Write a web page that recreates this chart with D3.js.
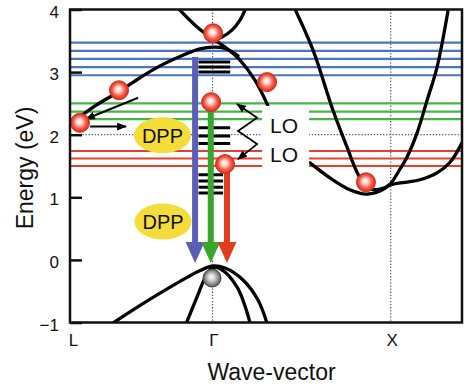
<!DOCTYPE html>
<html>
<head>
<meta charset="utf-8">
<script src="https://cdn.jsdelivr.net/npm/d3@7/dist/d3.min.js"></script>
<style>
  body { margin: 0; background: #fff; }
  svg { display: block; font-family: "Liberation Sans", Arial, Helvetica, sans-serif; }
</style>
</head>
<body>
<script>
// energy levels (eV) of the three emission channels
const blueLevels = [3.47, 3.34, 3.21, 3.08, 2.95];
const greenLevels = [2.50, 2.37, 2.25];
const redLevels = [1.74, 1.62, 1.50];
// short black levels at Gamma
const levelsTop = [3.16, 3.08, 3.00];
const levelsMid = [2.11, 1.98, 1.86];
const levelsLow = [1.36, 1.26, 1.16, 1.07];

// wave-vector points and energy ticks
const kPoints = [-0.8, 0, 1];
const kLabels = ["L", "Γ", "X"];
const eTicks = [-1, 0, 1, 2, 3, 4];

// bands, [k, E]
const bandL = [[-0.8, 2.17], [-0.659, 2.46], [-0.53, 2.68], [-0.407, 2.91], [-0.295, 3.10],
  [-0.166, 3.27], [-0.07, 3.37], [0.003, 3.40], [0.07, 3.38], [0.143, 3.26]];
const bandC = [[-0.21, 4.07], [-0.098, 3.75], [-0.014, 3.56], [0.07, 3.40], [0.154, 3.19],
  [0.238, 2.87], [0.311, 2.46]];
const bandD = [[0.194, 4.07], [0.154, 3.83], [0.109, 3.67], [0.053, 3.56], [0.003, 3.51]];
const bandXa = [[0.452, 4.07], [0.564, 3.35], [0.676, 2.39], [0.755, 1.80], [0.811, 1.40],
  [0.867, 1.15], [0.94, 1.13], [0.996, 1.21], [1.041, 1.40], [1.091, 1.64], [1.148, 2.03],
  [1.204, 2.55], [1.26, 3.08], [1.327, 4.07]];
const bandXb = [[0.547, 1.55], [0.659, 1.31], [0.771, 1.12], [0.861, 1.05], [0.94, 1.10],
  [1.002, 1.20], [1.08, 1.24], [1.164, 1.28], [1.26, 1.39], [1.333, 1.56], [1.4, 1.87]];
const valence1 = [[-0.586, -1.06], [-0.435, -0.78], [-0.311, -0.56], [-0.143, -0.28], [-0.07, -0.17],
  [-0.003, -0.10], [0.07, -0.13], [0.171, -0.32], [0.255, -0.64], [0.311, -1.06]];
const valence2 = [[-0.154, -1.06], [-0.087, -0.59], [-0.042, -0.29], [-0.003, -0.13],
  [0.042, -0.14], [0.137, -0.43], [0.216, -1.06]];

// radiative transitions: k, start E, end E
const transK = [-0.098, -0.01, 0.081];
const transFrom = [3.24, 2.52, 1.53];
const transTo = [-0.05, -0.05, -0.05];

// electrons and hole [k, E]
const electrons = [[-0.744, 2.19], [-0.525, 2.71], [0.003, 3.62], [0.306, 2.84],
  [-0.008, 2.52], [0.07, 1.53], [0.861, 1.24]];
const hole = [-0.003, -0.29];

// annotations [k, E]
const relaxArrows = [[[-0.418, 2.59], [-0.71, 2.25]], [[-0.687, 2.13], [-0.485, 2.13]]];
const loZigzag = [[0.137, 2.49], [0.25, 2.27], [0.143, 2.06], [0.25, 1.85], [0.143, 1.61]];
const loLabels = [[0.323, 2.03], [0.323, 1.56]];
const loBox = [0.278, 0.542, 2.46, 1.45];
const dppLabels = [[-0.281, 1.99], [-0.278, 0.613]];

const W = 464, H = 389;
const pLeft = 70, pRight = 462, pTop = 9.5, pBottom = 322.5;

const svg = d3.select("body").append("svg").attr("width", W).attr("height", H);
const x = d3.scaleLinear().domain([-0.8, 1.4]).range([pLeft, pRight]);
const y = d3.scaleLinear().domain([-1, 4]).range([pBottom, pTop]);

const defs = svg.append("defs");
defs.append("clipPath").attr("id", "plot")
  .append("rect").attr("x", pLeft).attr("y", pTop).attr("width", pRight - pLeft).attr("height", pBottom - pTop);

const rg = defs.append("radialGradient").attr("id", "redBall").attr("fx", "45%").attr("fy", "42%");
[[0, "#ffffff"], [0.3, "#fcd3cc"], [0.65, "#f2634f"], [1, "#d9281a"]].forEach(s =>
  rg.append("stop").attr("offset", s[0]).attr("stop-color", s[1]));
const gg = defs.append("radialGradient").attr("id", "greyBall").attr("fx", "45%").attr("fy", "42%");
[[0, "#ffffff"], [0.4, "#cfcfcf"], [1, "#555555"]].forEach(s =>
  gg.append("stop").attr("offset", s[0]).attr("stop-color", s[1]));

defs.append("marker").attr("id", "head").attr("viewBox", "0 0 10 8")
  .attr("refX", 9).attr("refY", 4).attr("markerWidth", 10).attr("markerHeight", 8)
  .attr("markerUnits", "userSpaceOnUse").attr("orient", "auto-start-reverse")
  .append("path").attr("d", "M0,0 L10,4 L0,8 Z").attr("fill", "#000");

const plot = svg.append("g").attr("clip-path", "url(#plot)");

// dotted guides
const dotted = g => g.attr("stroke", "#555").attr("stroke-width", 1.2).attr("stroke-dasharray", "1.3,1.8");
plot.append("line").attr("x1", pLeft).attr("x2", pRight).attr("y1", y(2)).attr("y2", y(2)).call(dotted);
[0, 1].forEach(k => plot.append("line").attr("x1", x(k)).attr("x2", x(k))
  .attr("y1", pTop).attr("y2", pBottom).call(dotted));

// emission levels
const levelSets = [[blueLevels, "#4a74c4"], [greenLevels, "#45b645"], [redLevels, "#e6402a"]];
levelSets.forEach(([vals, col]) => {
  plot.selectAll(null).data(vals).enter().append("line")
    .attr("x1", pLeft).attr("x2", pRight)
    .attr("y1", d => y(d)).attr("y2", d => y(d))
    .attr("stroke", col).attr("stroke-width", 2.2);
});

// bands
const line = d3.line().x(d => x(d[0])).y(d => y(d[1])).curve(d3.curveCatmullRom.alpha(0.5));
[bandL, bandC, bandD, bandXa, bandXb, valence1, valence2].forEach(b => {
  plot.append("path").attr("d", line(b)).attr("fill", "none")
    .attr("stroke", "#000").attr("stroke-width", 3.3).attr("stroke-linecap", "round");
});

// white box behind the LO labels
plot.append("rect")
  .attr("x", x(loBox[0])).attr("y", y(loBox[2]))
  .attr("width", x(loBox[1]) - x(loBox[0])).attr("height", y(loBox[3]) - y(loBox[2]))
  .attr("fill", "#fff");

// short black levels
const levelGroups = [[levelsTop, -0.079, 0.099], [levelsMid, -0.079, 0.099], [levelsLow, -0.079, 0.059]];
levelGroups.forEach(([vals, k0, k1]) => {
  plot.selectAll(null).data(vals).enter().append("line")
    .attr("x1", x(k0)).attr("x2", x(k1))
    .attr("y1", d => y(d)).attr("y2", d => y(d))
    .attr("stroke", "#000").attr("stroke-width", 3);
});

// DPP ellipses
dppLabels.forEach(d => {
  plot.append("ellipse").attr("cx", x(d[0])).attr("cy", y(d[1]))
    .attr("rx", 28.5).attr("ry", 18).attr("fill", "#f4dc3a");
  plot.append("text").attr("x", x(d[0])).attr("y", y(d[1])).attr("dy", "0.36em")
    .attr("text-anchor", "middle").attr("font-size", 20).attr("fill", "#111").text("DPP");
});

// coloured emission arrows
const transColors = ["#5a5fb6", "#38a62c", "#e23c1e"];
transK.forEach((k, i) => {
  const xc = x(k), y0 = y(transFrom[i]), y1 = y(transTo[i]);
  plot.append("line").attr("x1", xc).attr("x2", xc).attr("y1", y0).attr("y2", y1 - 18)
    .attr("stroke", transColors[i]).attr("stroke-width", 6);
  plot.append("path")
    .attr("d", `M${xc - 9.5},${y1 - 21} L${xc + 9.5},${y1 - 21} L${xc},${y1} Z`)
    .attr("fill", transColors[i]);
});

// black relaxation arrows
relaxArrows.forEach(a => {
  plot.append("line")
    .attr("x1", x(a[0][0])).attr("y1", y(a[0][1]))
    .attr("x2", x(a[1][0])).attr("y2", y(a[1][1]))
    .attr("stroke", "#000").attr("stroke-width", 2).attr("marker-end", "url(#head)");
});
plot.append("path").attr("d", d3.line().x(d => x(d[0])).y(d => y(d[1]))(loZigzag))
  .attr("fill", "none").attr("stroke", "#000").attr("stroke-width", 1.8)
  .attr("marker-start", "url(#head)").attr("marker-end", "url(#head)");

// LO labels
loLabels.forEach(d => {
  svg.append("text").attr("x", x(d[0])).attr("y", y(d[1]))
    .attr("font-size", 21).attr("fill", "#111").text("LO");
});

// carriers
plot.selectAll(null).data(electrons).enter().append("circle")
  .attr("cx", d => x(d[0])).attr("cy", d => y(d[1])).attr("r", 9.5)
  .attr("fill", "url(#redBall)").attr("stroke", "#d3301f").attr("stroke-width", 1);
plot.append("circle").attr("cx", x(hole[0])).attr("cy", y(hole[1])).attr("r", 9)
  .attr("fill", "url(#greyBall)").attr("stroke", "#444").attr("stroke-width", 1);

// frame
svg.append("rect").attr("x", pLeft).attr("y", pTop)
  .attr("width", pRight - pLeft).attr("height", pBottom - pTop)
  .attr("fill", "none").attr("stroke", "#111").attr("stroke-width", 2.5);

// axes
const yAxis = d3.axisLeft(y).tickValues(eTicks).tickSize(-12).tickPadding(11).tickFormat(d3.format("d"));
const gy = svg.append("g").attr("transform", `translate(${pLeft},0)`).call(yAxis);
gy.select(".domain").remove();
gy.selectAll("line").attr("stroke", "#111").attr("stroke-width", 2.5);
gy.selectAll("text").attr("font-size", 17).attr("font-family", null).attr("fill", "#111").attr("dy", "0.45em");

const xAxis = d3.axisBottom(x).tickValues(kPoints).tickSize(0).tickPadding(11).tickFormat((d, i) => kLabels[i]);
const gx = svg.append("g").attr("transform", `translate(0,${pBottom})`).call(xAxis);
gx.select(".domain").remove();
gx.selectAll("text").attr("font-size", 17).attr("font-family", null).attr("fill", "#111")
  .attr("dx", (d, i) => i === 0 ? 3 : 1);

// titles
svg.append("text").attr("transform", "translate(33,168) rotate(-90)")
  .attr("text-anchor", "middle").attr("font-size", 23).attr("fill", "#111").text("Energy (eV)");
svg.append("text").attr("x", 271.5).attr("y", 380)
  .attr("text-anchor", "middle").attr("font-size", 23).attr("fill", "#111").text("Wave-vector");
</script>
</body>
</html>
